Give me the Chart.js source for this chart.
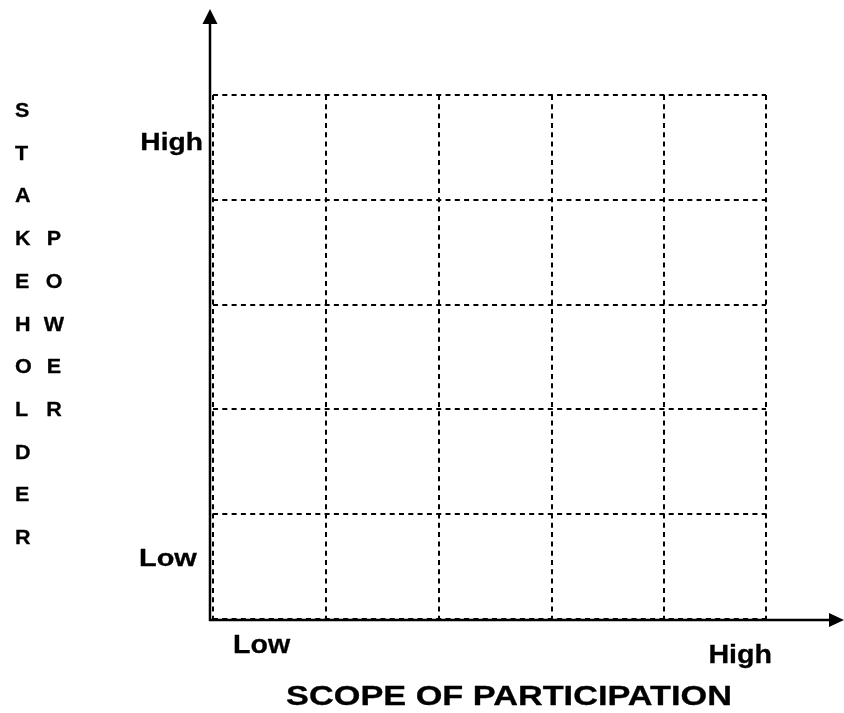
<!DOCTYPE html>
<html>
<head>
<meta charset="utf-8">
<script src="https://cdn.jsdelivr.net/npm/chart.js@4.4.1/dist/chart.umd.min.js"></script>
<style>
  html, body { margin: 0; padding: 0; background: #ffffff; }
  #wrap { width: 844px; height: 713px; position: relative; }
</style>
</head>
<body>
<div id="wrap"><canvas id="c" width="844" height="713"></canvas></div>
<script>
// ---- chart content ----
const xTickLabels = ['Low', 'High'];
const yTickLabels = ['Low', 'High'];
const xTitle = 'SCOPE OF PARTICIPATION';
const yTitleMain = 'STAKEHOLDER';
const yTitleSub = 'POWER';
const xGridLevels = [0, 1, 2, 3, 4, 4.9];   // column boundaries (last column narrower)
const yGridLevels = [0, 1, 2, 3, 4, 5];     // row boundaries
const points = [];                           // empty matrix: no plotted marks

function stretchText(ctx, text, x, y, size, sx, align) {
  ctx.save();
  ctx.font = 'bold ' + size + 'px "Liberation Sans", Arial, sans-serif';
  ctx.fillStyle = '#000';
  ctx.strokeStyle = '#000';
  ctx.lineWidth = 0.3;
  ctx.lineJoin = 'round';
  ctx.textBaseline = 'alphabetic';
  ctx.textAlign = align;
  ctx.translate(x, y);
  ctx.scale(sx, 1);
  ctx.fillText(text, 0, 0);
  ctx.strokeText(text, 0, 0);
  ctx.restore();
}

const axesPlugin = {
  id: 'axesPlugin',
  afterDraw(chart) {
    const ctx = chart.ctx;
    const xs = chart.scales.x, ys = chart.scales.y;
    const left = xs.getPixelForValue(xGridLevels[0]);
    const right = xs.getPixelForValue(xGridLevels[xGridLevels.length - 1]);
    const top = ys.getPixelForValue(yGridLevels[yGridLevels.length - 1]);
    const bottom = ys.getPixelForValue(yGridLevels[0]);
    const axX = left - 3, axY = bottom + 1;
    ctx.save();
    ctx.strokeStyle = '#000';
    ctx.fillStyle = '#000';
    ctx.lineWidth = 2.5;
    ctx.setLineDash([]);
    // vertical axis
    ctx.beginPath();
    ctx.moveTo(axX, axY + 1);
    ctx.lineTo(axX, 20);
    ctx.stroke();
    ctx.beginPath();
    ctx.moveTo(axX, 9);
    ctx.lineTo(axX - 7.5, 24);
    ctx.lineTo(axX + 7.5, 24);
    ctx.closePath();
    ctx.fill();
    // horizontal axis
    ctx.beginPath();
    ctx.moveTo(axX - 1, axY);
    ctx.lineTo(832, axY);
    ctx.stroke();
    ctx.beginPath();
    ctx.moveTo(844, axY);
    ctx.lineTo(829, axY - 7);
    ctx.lineTo(829, axY + 7);
    ctx.closePath();
    ctx.fill();
    ctx.restore();

    // y tick labels
    stretchText(ctx, yTickLabels[1], left - 10, top + 55, 23.5, 1.2, 'right');
    stretchText(ctx, yTickLabels[0], left - 74, bottom - 53, 23.5, 1.23, 'left');
    // x tick labels
    stretchText(ctx, xTickLabels[0], left + 20, bottom + 34, 25.5, 1.12, 'left');
    stretchText(ctx, xTickLabels[1], right + 6, bottom + 44, 26.5, 1.08, 'right');
    // x title
    stretchText(ctx, xTitle, 509, bottom + 86, 27, 1.27, 'center');
    // y title: stacked letters in two columns
    const step = 42.7;
    for (let i = 0; i < yTitleMain.length; i++) {
      stretchText(ctx, yTitleMain[i], 15, 117 + i * step, 20.5, 1.05, 'left');
    }
    for (let i = 0; i < yTitleSub.length; i++) {
      stretchText(ctx, yTitleSub[i], 54, 117 + (i + 3) * step, 20.5, 1.05, 'center');
    }
  }
};

function gridOpts() {
  return { color: '#000', lineWidth: 2, drawTicks: false, drawOnChartArea: true };
}

new Chart(document.getElementById('c'), {
  type: 'scatter',
  data: { datasets: [{ data: points, pointRadius: 0 }] },
  options: {
    responsive: false,
    animation: false,
    events: [],
    layout: { padding: { left: 213, right: 78, top: 95, bottom: 94 } },
    plugins: { legend: { display: false }, tooltip: { enabled: false } },
    scales: {
      x: {
        type: 'linear', min: xGridLevels[0], max: xGridLevels[xGridLevels.length - 1],
        ticks: { display: false },
        afterBuildTicks(scale) { scale.ticks = xGridLevels.map(v => ({ value: v })); },
        grid: gridOpts(),
        border: { display: false, dash: [5, 4.3] }
      },
      y: {
        type: 'linear', min: yGridLevels[0], max: yGridLevels[yGridLevels.length - 1],
        ticks: { display: false },
        afterBuildTicks(scale) { scale.ticks = yGridLevels.map(v => ({ value: v })); },
        grid: gridOpts(),
        border: { display: false, dash: [5, 4.3] }
      }
    }
  },
  plugins: [axesPlugin]
});
</script>
</body>
</html>
